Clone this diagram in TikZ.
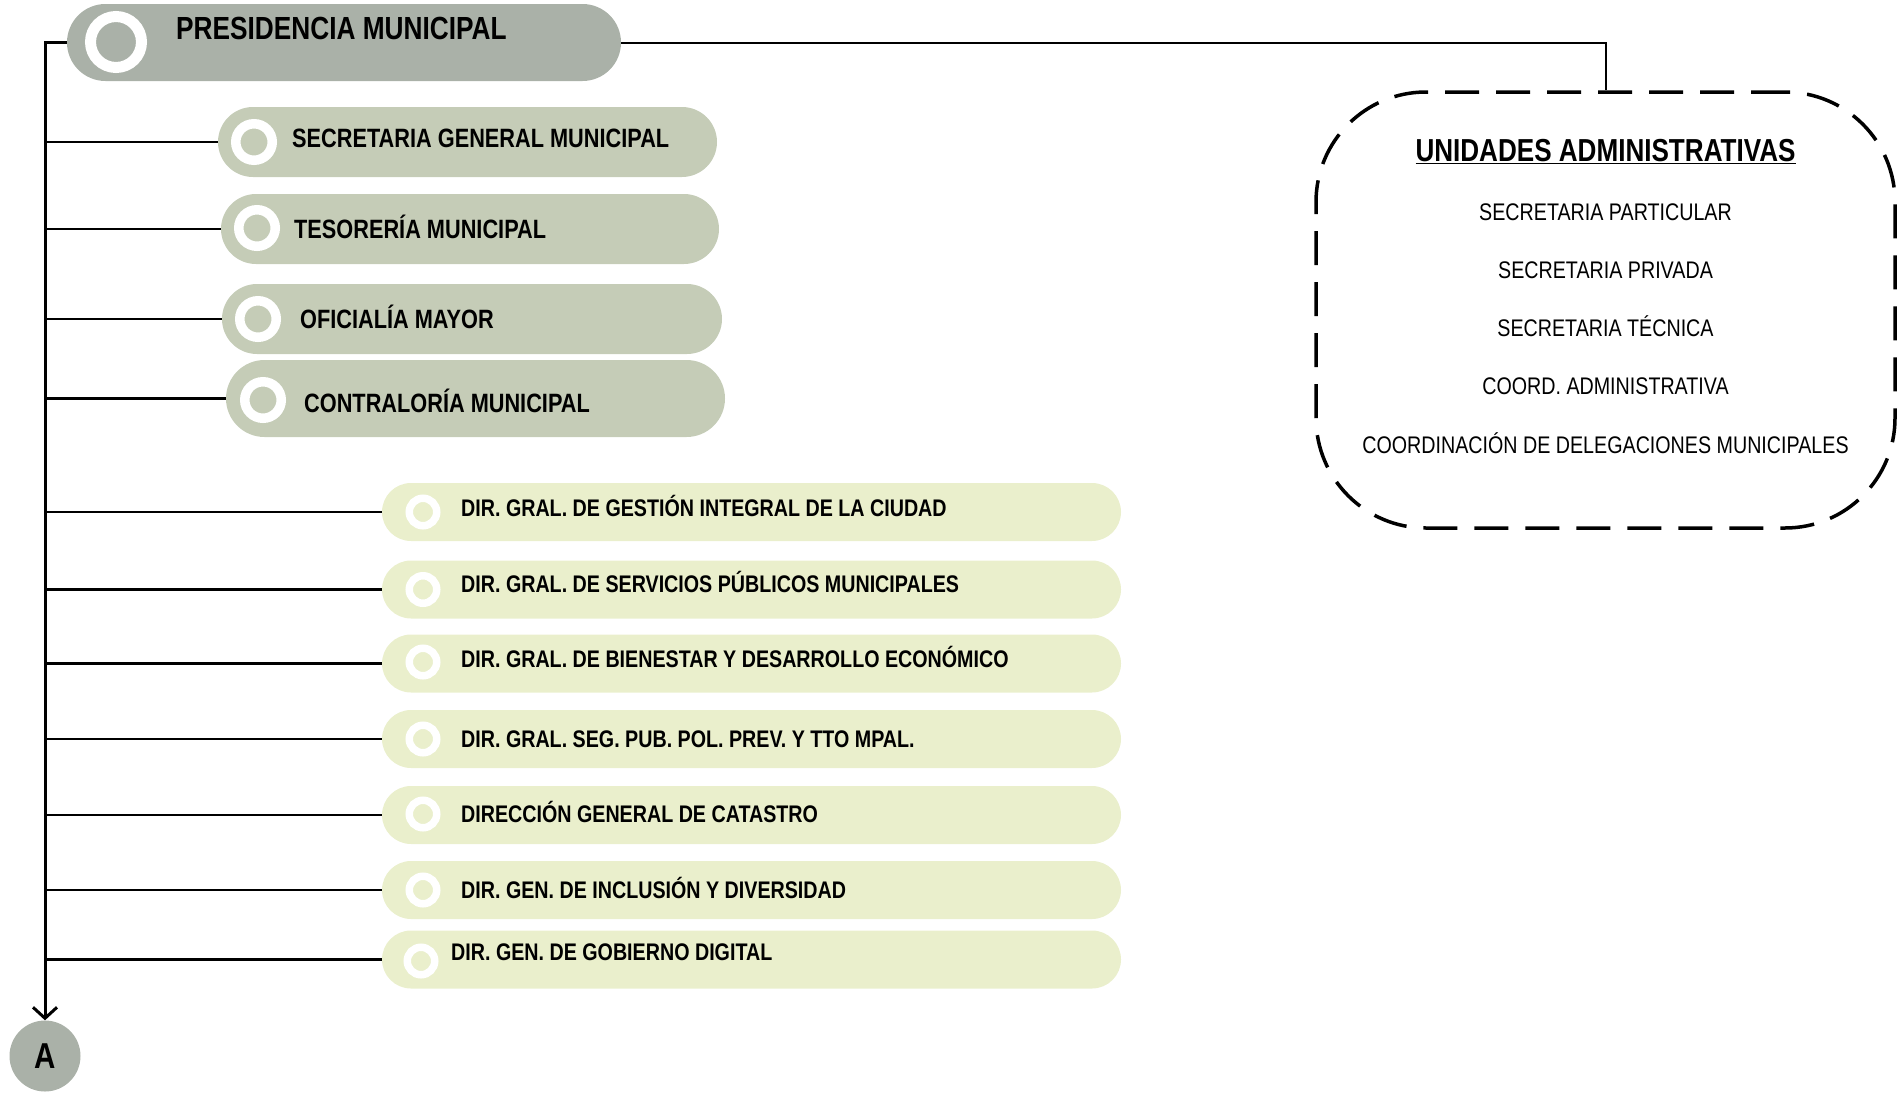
\documentclass[tikz,border=0pt]{standalone}
\usepackage{fontspec}
\setmainfont[FakeStretch=0.82]{Liberation Sans}
\usetikzlibrary{arrows.meta}
\definecolor{presgray}{HTML}{AAB1A8}
\definecolor{secgreen}{HTML}{C5CCB7}
\definecolor{dirgreen}{HTML}{EAEFCC}
\newcommand\fpres{\fontsize{32}{36}\selectfont\bfseries}
\newcommand\fsec{\fontsize{26.5}{30}\selectfont\bfseries}
\newcommand\fdir{\fontsize{24}{28}\selectfont\bfseries}
\newcommand\fitem{\fontsize{24}{28}\selectfont}
\newcommand\ftitle{\fontsize{31.8}{34}\selectfont\bfseries}
\newcommand\fletter{\fontsize{36}{40}\selectfont\bfseries}
\tikzset{
  pill/.style={rectangle, rounded corners=#1, inner sep=0pt, draw=none},
  ring/.style={circle, draw=white, inner sep=0pt},
  label/.style={anchor=base west, inner sep=0pt},
  itemtext/.style={anchor=base, inner sep=0pt, font=\fitem},
  branch/.style={line width=2.6pt, black},
  trunk/.style={line width=3pt, black},
  conn/.style={line width=2pt, black},
}
\begin{document}
\begin{tikzpicture}[x=1pt,y=-1pt]
\useasboundingbox (0,0) rectangle (1902,1092);

% Presidencia
\node[pill=38.5pt, fill=presgray, minimum width=554pt, minimum height=77pt] (pres) at (344,42.5) {};
\node[ring, fill=presgray, minimum size=51pt, line width=11pt] (presring) at (116,42) {};
\node[label, font=\fpres] (prest) at (176,39.5) {PRESIDENCIA MUNICIPAL};

% Secondary
\node[pill=35pt, fill=secgreen, minimum width=499pt, minimum height=70pt] (sec) at (467.5,142) {};
\node[ring, fill=secgreen, minimum size=36.5pt, line width=9.5pt] (secring) at (254,142) {};
\node[label, font=\fsec] (sect) at (292,147.5) {SECRETARIA GENERAL MUNICIPAL};

\node[pill=35pt, fill=secgreen, minimum width=498pt, minimum height=70pt] (tes) at (470,229) {};
\node[ring, fill=secgreen, minimum size=36.5pt, line width=9.5pt] (tesring) at (257,228) {};
\node[label, font=\fsec] (test) at (294,238.5) {TESORERÍA MUNICIPAL};

\node[pill=35pt, fill=secgreen, minimum width=500pt, minimum height=70pt] (ofi) at (472,319) {};
\node[ring, fill=secgreen, minimum size=36.5pt, line width=9.5pt] (ofiring) at (258,319) {};
\node[label, font=\fsec] (ofit) at (300,328) {OFICIALÍA MAYOR};

\node[pill=38.5pt, fill=secgreen, minimum width=499pt, minimum height=77pt] (con) at (475.5,398.5) {};
\node[ring, fill=secgreen, minimum size=36.5pt, line width=9.5pt] (conring) at (263,400) {};
\node[label, font=\fsec] (cont) at (304,412.5) {CONTRALORÍA MUNICIPAL};

% Direcciones
\node[pill=29pt, fill=dirgreen, minimum width=739pt, minimum height=58pt] (d1) at (751.5,512) {};
\node[ring, fill=dirgreen, minimum size=27.5pt, line width=7.5pt] (d1ring) at (423,512) {};
\node[label, font=\fdir] (d1t) at (461,516.6) {DIR. GRAL. DE GESTIÓN INTEGRAL DE LA CIUDAD};

\node[pill=29pt, fill=dirgreen, minimum width=739pt, minimum height=58pt] (d2) at (751.5,589.5) {};
\node[ring, fill=dirgreen, minimum size=27.5pt, line width=7.5pt] (d2ring) at (423,589.5) {};
\node[label, font=\fdir] (d2t) at (461,592.6) {DIR. GRAL. DE SERVICIOS PÚBLICOS MUNICIPALES};

\node[pill=29pt, fill=dirgreen, minimum width=739pt, minimum height=58pt] (d3) at (751.5,663.5) {};
\node[ring, fill=dirgreen, minimum size=27.5pt, line width=7.5pt] (d3ring) at (423,662) {};
\node[label, font=\fdir] (d3t) at (461,667.6) {DIR. GRAL. DE BIENESTAR Y DESARROLLO ECONÓMICO};

\node[pill=29pt, fill=dirgreen, minimum width=739pt, minimum height=58pt] (d4) at (751.5,739) {};
\node[ring, fill=dirgreen, minimum size=27.5pt, line width=7.5pt] (d4ring) at (423,739) {};
\node[label, font=\fdir] (d4t) at (461,747.6) {DIR. GRAL. SEG. PUB. POL. PREV. Y TTO MPAL.};

\node[pill=29pt, fill=dirgreen, minimum width=739pt, minimum height=58pt] (d5) at (751.5,815) {};
\node[ring, fill=dirgreen, minimum size=27.5pt, line width=7.5pt] (d5ring) at (423,814) {};
\node[label, font=\fdir] (d5t) at (461,822.6) {DIRECCIÓN GENERAL DE CATASTRO};

\node[pill=29pt, fill=dirgreen, minimum width=739pt, minimum height=58pt] (d6) at (751.5,890) {};
\node[ring, fill=dirgreen, minimum size=27.5pt, line width=7.5pt] (d6ring) at (423,890) {};
\node[label, font=\fdir] (d6t) at (461,898.6) {DIR. GEN. DE INCLUSIÓN Y DIVERSIDAD};

\node[pill=29pt, fill=dirgreen, minimum width=739pt, minimum height=58pt] (d7) at (751.5,959.5) {};
\node[ring, fill=dirgreen, minimum size=27.5pt, line width=7.5pt] (d7ring) at (421,961) {};
\node[label, font=\fdir] (d7t) at (451,960.6) {DIR. GEN. DE GOBIERNO DIGITAL};

% A connector circle
\node[circle, fill=presgray, minimum size=71pt, inner sep=0pt, font=\fletter] (A) at (45,1056) {A};

% Unidades administrativas
\node[draw, line width=3.5pt, dash pattern=on 34pt off 17pt, rounded corners=110pt,
      minimum width=579pt, minimum height=436pt, inner sep=0pt] (ua) at (1605.5,310) {};
\node[anchor=base, inner sep=0pt, font=\ftitle] (uat) at (1605.5,161.3) {\underline{UNIDADES ADMINISTRATIVAS}};
\node[itemtext] (u1) at (1605.5,220.6) {SECRETARIA PARTICULAR};
\node[itemtext] (u2) at (1605.5,278.6) {SECRETARIA PRIVADA};
\node[itemtext] (u3) at (1605.5,336.1) {SECRETARIA TÉCNICA};
\node[itemtext] (u4) at (1605.5,394.6) {COORD. ADMINISTRATIVA};
\node[itemtext] (u5) at (1605.5,453.6) {COORDINACIÓN DE DELEGACIONES MUNICIPALES};

% Connectors
\draw[trunk, -{Straight Barb[length=11pt, width=24pt, line width=3pt]}] (pres.west) -| (A.north);
\draw[conn] (pres.east) -| (ua.north);
\foreach \n in {sec,tes,ofi,con,d1,d2,d3,d4,d5,d6,d7}
  \draw[branch] (\n.west) -- (\n.west -| A.north);
\end{tikzpicture}
\end{document}
